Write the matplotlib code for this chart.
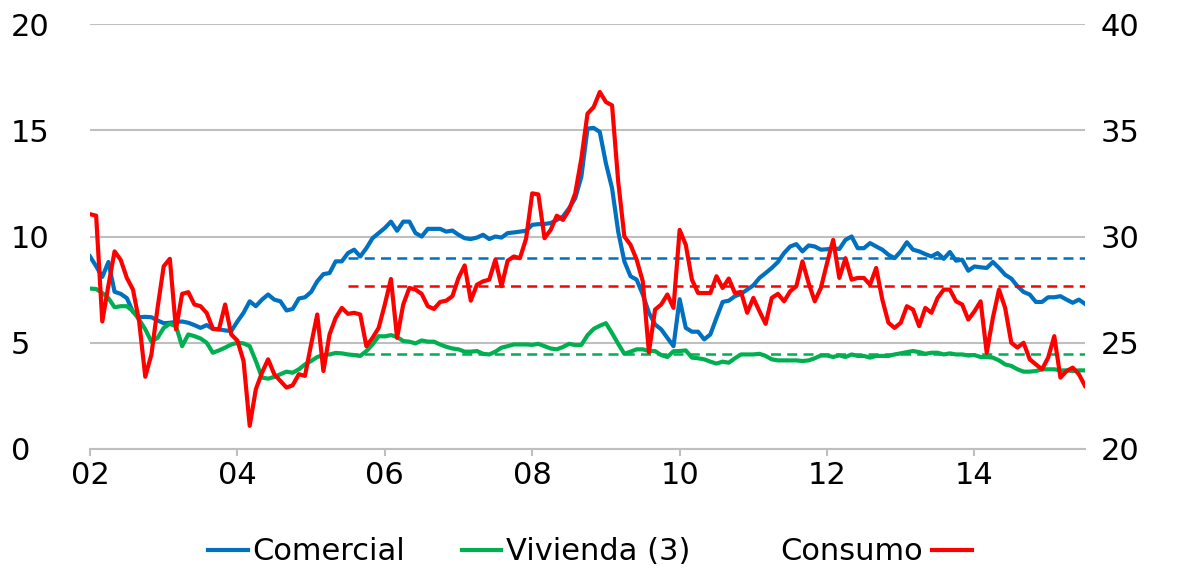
import numpy as np
import matplotlib.pyplot as plt
from matplotlib.lines import Line2D

# datos mensuales, ene-2002 a jul-2015 (una fila por año)
comercial = [
    9.06, 8.6, 8.1, 8.8, 7.4, 7.3, 7.1, 6.45, 6.2, 6.22, 6.2, 6.05,
    5.92, 5.94, 5.98, 6.0, 5.94, 5.83, 5.7, 5.83, 5.65, 5.63, 5.58, 5.55,
    6.0, 6.41, 6.95, 6.72, 7.03, 7.27, 7.03, 6.95, 6.52, 6.59, 7.08, 7.14,
    7.39, 7.89, 8.23, 8.28, 8.83, 8.83, 9.22, 9.38, 9.06, 9.45, 9.92, 10.16,
    10.4, 10.7, 10.27, 10.7, 10.7, 10.16, 10.0, 10.36, 10.36, 10.36, 10.23, 10.28,
    10.08, 9.92, 9.88, 9.95, 10.08, 9.88, 10.0, 9.95, 10.16, 10.19, 10.23, 10.27,
    10.55, 10.58, 10.59, 10.63, 10.78, 10.94, 11.33, 11.8, 12.81, 15.08, 15.11, 14.92,
    13.44, 12.27, 10.23, 8.83, 8.13, 7.97, 7.27, 6.41, 5.86, 5.63, 5.23, 4.84,
    7.05, 5.7, 5.52, 5.52, 5.16, 5.39, 6.17, 6.92, 6.98, 7.19, 7.3, 7.5,
    7.7, 8.05, 8.28, 8.52, 8.8, 9.22, 9.53, 9.64, 9.3, 9.58, 9.53, 9.38,
    9.4, 9.45, 9.41, 9.84, 10.0, 9.45, 9.45, 9.69, 9.53, 9.38, 9.14, 8.98,
    9.3, 9.73, 9.38, 9.3, 9.17, 9.06, 9.22, 8.95, 9.27, 8.86, 8.91, 8.39,
    8.59, 8.55, 8.52, 8.8, 8.52, 8.2, 8.02, 7.66, 7.39, 7.27, 6.92, 6.92,
    7.14, 7.14, 7.19, 7.03, 6.88, 7.03, 6.83,
]
vivienda = [
    7.55, 7.53, 7.34, 7.1, 6.67, 6.72, 6.72, 6.48, 6.09, 5.63, 5.05, 5.23,
    5.7, 5.89, 5.78, 4.84, 5.39, 5.31, 5.2, 5.0, 4.53, 4.64, 4.77, 4.92,
    5.0, 4.97, 4.84, 4.14, 3.36, 3.31, 3.39, 3.52, 3.64, 3.59, 3.75, 3.98,
    4.14, 4.33, 4.42, 4.45, 4.52, 4.5, 4.45, 4.42, 4.38, 4.61, 4.92, 5.31,
    5.3, 5.36, 5.27, 5.08, 5.05, 4.97, 5.11, 5.05, 5.05, 4.92, 4.81, 4.73,
    4.69, 4.58, 4.58, 4.61, 4.48, 4.45, 4.58, 4.77, 4.84, 4.92, 4.92, 4.92,
    4.9, 4.95, 4.84, 4.73, 4.69, 4.8, 4.95, 4.89, 4.9, 5.35, 5.65, 5.8,
    5.92, 5.45, 4.95, 4.48, 4.58, 4.69, 4.69, 4.61, 4.61, 4.42, 4.33, 4.6,
    4.61, 4.64, 4.3, 4.27, 4.22, 4.11, 4.02, 4.11, 4.06, 4.27, 4.45, 4.45,
    4.45, 4.48, 4.38, 4.22, 4.17, 4.17, 4.17, 4.17, 4.14, 4.17, 4.27, 4.4,
    4.4, 4.33, 4.41, 4.33, 4.45, 4.38, 4.38, 4.3, 4.38, 4.38, 4.38, 4.45,
    4.5, 4.56, 4.61, 4.56, 4.48, 4.53, 4.53, 4.45, 4.5, 4.45, 4.45, 4.4,
    4.42, 4.33, 4.33, 4.3, 4.17, 3.98, 3.91, 3.75, 3.64, 3.64, 3.67, 3.75,
    3.75, 3.75, 3.7, 3.7, 3.67, 3.7, 3.7,
]
# consumo va en el eje derecho
consumo = [
    31.05, 30.98, 26.0, 27.7, 29.3, 28.9, 28.05, 27.5, 26.0, 23.4, 24.45, 26.64,
    28.6, 28.95, 25.63, 27.3, 27.38, 26.8, 26.72, 26.4, 25.66, 25.63, 26.8, 25.39,
    25.1, 24.14, 21.09, 22.81, 23.59, 24.22, 23.52, 23.2, 22.89, 23.0, 23.52, 23.44,
    24.92, 26.33, 23.67, 25.39, 26.17, 26.64, 26.36, 26.41, 26.33, 24.84, 25.23, 25.7,
    26.8, 28.0, 25.23, 26.8, 27.58, 27.5, 27.3, 26.72, 26.59, 26.92, 26.98, 27.19,
    28.05, 28.64, 26.98, 27.73, 27.89, 27.97, 28.91, 27.66, 28.86, 29.06, 28.98, 29.9,
    32.03, 31.98, 29.92, 30.31, 30.98, 30.78, 31.25, 32.03, 33.67, 35.78, 36.09, 36.8,
    36.33, 36.17, 32.58, 30.0, 29.61, 28.91, 27.89, 24.55, 26.56, 26.8, 27.27, 26.64,
    30.31, 29.61, 27.97, 27.34, 27.34, 27.34, 28.13, 27.58, 28.02, 27.34, 27.39, 26.41,
    27.11, 26.48, 25.89, 27.11, 27.3, 26.95, 27.42, 27.66, 28.83, 27.81, 26.95, 27.58,
    28.75, 29.84, 28.05, 28.98, 27.97, 28.05, 28.05, 27.73, 28.52, 27.03, 25.94, 25.7,
    25.94, 26.72, 26.56, 25.78, 26.64, 26.41, 27.11, 27.5, 27.5, 26.95, 26.8, 26.09,
    26.48, 26.95, 24.53, 26.17, 27.5, 26.64, 25.0, 24.77, 25.0, 24.22, 23.98, 23.75,
    24.3, 25.31, 23.36, 23.67, 23.83, 23.52, 22.97,
]

# promedios (lineas discontinuas) desde mediados de 2005
media_periodo = [2005.5, 2015.5]
media_comercial = 8.97
media_vivienda = 4.45
media_consumo = 27.65

xtick_years = [2002, 2004, 2006, 2008, 2010, 2012, 2014]
xtick_labels = ['02', '04', '06', '08', '10', '12', '14']

azul = '#0070C0'
verde = '#00B050'
rojo = '#FF0000'
gris = '#BFBFBF'
fs = 22

plt.rcParams['font.family'] = ['DejaVu Sans']

fechas = 2002 + np.arange(len(comercial)) / 12.0

fig = plt.figure(figsize=(11.78, 5.74), dpi=100)
ax = fig.add_axes([90/1178, 1 - 449/574, 995/1178, 425/574])
ax2 = ax.twinx()

ax.plot(fechas, comercial, color=azul, lw=3, solid_joinstyle='round')
ax.plot(fechas, vivienda, color=verde, lw=3, solid_joinstyle='round')
ax.plot(media_periodo, [media_comercial] * 2, color=azul, lw=1.8, dashes=(4, 2.5))
ax.plot(media_periodo, [media_vivienda] * 2, color=verde, lw=1.8, dashes=(4, 2.5))
ax2.plot(fechas, consumo, color=rojo, lw=3, solid_joinstyle='round')
ax2.plot(media_periodo, [media_consumo] * 2, color=rojo, lw=1.8, dashes=(4, 2.5))

ax.set_xlim(2002, 2015.5)
ax.set_ylim(0, 20)
ax2.set_ylim(20, 40)
ax.set_xticks(xtick_years)
ax.set_xticklabels(xtick_labels)
ax.set_yticks([0, 5, 10, 15, 20])
ax2.set_yticks([20, 25, 30, 35, 40])

ax.yaxis.grid(True, color=gris, lw=1.5)
ax.set_axisbelow(True)
for a in (ax, ax2):
    for s in a.spines.values():
        s.set_visible(False)
ax.spines['bottom'].set_visible(True)
ax.spines['bottom'].set_color(gris)
ax.spines['bottom'].set_linewidth(1.5)

ax.tick_params(axis='x', length=5, color=gris, width=1.5, pad=4, labelsize=fs)
ax.tick_params(axis='y', length=0, pad=57, labelsize=fs)
for lbl in ax.get_yticklabels():
    lbl.set_horizontalalignment('left')
ax2.tick_params(axis='y', length=0, pad=11, labelsize=fs)

h_com = Line2D([], [], color=azul, lw=3)
h_viv = Line2D([], [], color=verde, lw=3)
h_con = Line2D([], [], color=rojo, lw=3)
ley_y = 1 - 552/574
fig.legend([h_com, h_viv], ['Comercial', 'Vivienda (3)'], loc='center left',
           bbox_to_anchor=(208/1178, ley_y), ncol=2, frameon=False, fontsize=fs,
           handlelength=1.3, handletextpad=0.15, columnspacing=1.85,
           borderpad=0, borderaxespad=0)
fig.legend([h_con], ['Consumo'], loc='center right', markerfirst=False,
           bbox_to_anchor=(972/1178, ley_y), frameon=False, fontsize=fs,
           handlelength=1.3, handletextpad=0.3, borderpad=0, borderaxespad=0)

fig.savefig('out.png', dpi=100)
